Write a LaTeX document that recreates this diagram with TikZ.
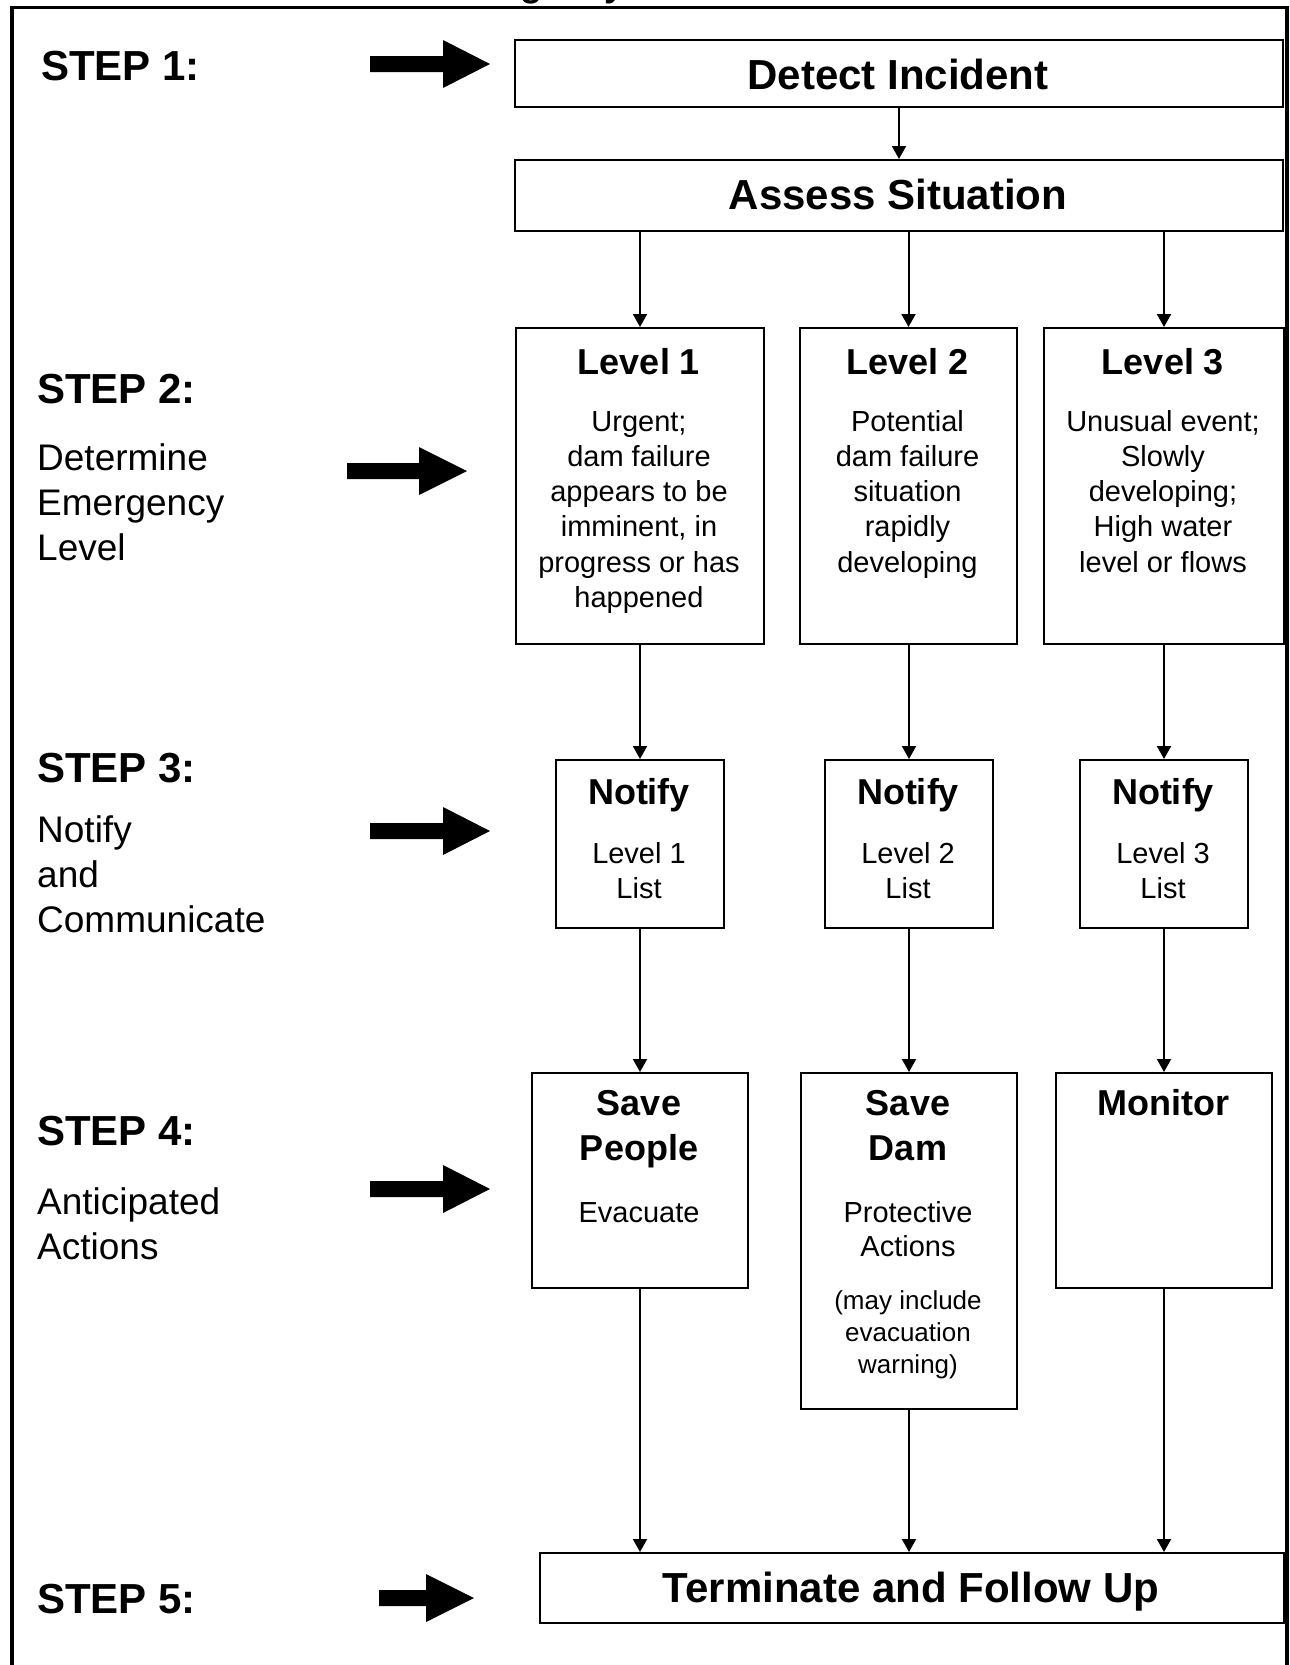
\documentclass[tikz,border=0pt]{standalone}
\usepackage{fontspec}
\setmainfont{Liberation Sans}
\usetikzlibrary{arrows.meta}
\newcommand\bigarrowat[5]{%
  \fill (#1,#4-8) -- (#2,#4-8) -- (#2,#4-24) -- (#3,#4) -- (#2,#4+24) -- (#2,#4+8) -- (#1,#4+8) -- cycle;}
\begin{document}
\begin{tikzpicture}[x=1pt,y=-1pt,
  box/.style={draw, line width=2pt, inner sep=0pt, anchor=north west},
  conn/.style={line width=2pt, -{Triangle[length=13pt,width=14pt]}},
  bigtxt/.style={font=\fontsize{42}{50}\selectfont\bfseries, inner sep=0pt, anchor=base},
  steptxt/.style={font=\fontsize{42}{50}\selectfont\bfseries, inner sep=0pt, anchor=base west},
  sidetxt/.style={font=\fontsize{37}{45}\selectfont, inner sep=0pt, anchor=base west, align=left},
  ttl/.style={font=\fontsize{36}{45}\selectfont\bfseries, inner sep=0pt, anchor=base, align=center},
  bodytxt/.style={font=\fontsize{29}{35.3}\selectfont, inner sep=0pt, anchor=base, align=center},
  smalltxt/.style={font=\fontsize{26}{32}\selectfont, inner sep=0pt, anchor=base, align=center}]
\useasboundingbox (0,0) rectangle (1290,1665);
% cut-off title
\node[font=\fontsize{36}{40}\selectfont\bfseries, inner sep=0pt, anchor=base west] (title) at (430,-3.5) {Emergency};
% frame
\draw[line width=3.5pt] (12,1700) -- (12,7.5) -- (1287,7.5) -- (1287,1700);
% boxes
\node[box, minimum width=768, minimum height=67] (det) at (514,39) {};
\node[box, minimum width=768, minimum height=71] (ass) at (514,159) {};
\node[box, minimum width=248, minimum height=316] (l1) at (515,327) {};
\node[box, minimum width=217, minimum height=316] (l2) at (799,327) {};
\node[box, minimum width=240, minimum height=316] (l3) at (1043,327) {};
\node[box, minimum width=168, minimum height=168] (n1) at (555,759) {};
\node[box, minimum width=168, minimum height=168] (n2) at (824,759) {};
\node[box, minimum width=168, minimum height=168] (n3) at (1079,759) {};
\node[box, minimum width=216, minimum height=215] (s1) at (531,1072) {};
\node[box, minimum width=216, minimum height=336] (s2) at (800,1072) {};
\node[box, minimum width=216, minimum height=215] (s3) at (1055,1072) {};
\node[box, minimum width=744, minimum height=70] (term) at (539,1552) {};
% box texts (multi-line nodes: base = last line's baseline)
\node[bigtxt] (tdet) at (898,89) {Detect Incident};
\node[bigtxt] (tass) at (898,209) {Assess Situation};
\node[ttl] (tl1) at (639,374) {Level 1};
\node[ttl] (tl2) at (907.5,374) {Level 2};
\node[ttl] (tl3) at (1163,374) {Level 3};
\node[bodytxt] (bl1) at (639,607.5) {Urgent;\\dam failure\\appears to be\\imminent, in\\progress or has\\happened};
\node[bodytxt] (bl2) at (907.5,572.2) {Potential\\dam failure\\situation\\rapidly\\developing};
\node[bodytxt] (bl3) at (1163,572.2) {Unusual event;\\Slowly\\developing;\\High water\\level or flows};
\node[ttl] (tn1) at (639,804) {Notify};
\node[ttl] (tn2) at (908,804) {Notify};
\node[ttl] (tn3) at (1163,804) {Notify};
\node[bodytxt, font=\fontsize{29}{35}\selectfont] (bn1) at (639,898) {Level 1\\List};
\node[bodytxt, font=\fontsize{29}{35}\selectfont] (bn2) at (908,898) {Level 2\\List};
\node[bodytxt, font=\fontsize{29}{35}\selectfont] (bn3) at (1163,898) {Level 3\\List};
\node[ttl] (ts1) at (639,1160) {Save\\People};
\node[ttl] (ts2) at (908,1160) {Save\\Dam};
\node[ttl] (ts3) at (1163,1115) {Monitor};
\node[bodytxt] (bs1) at (639,1222) {Evacuate};
\node[bodytxt, font=\fontsize{29}{34.5}\selectfont] (bs2) at (908,1256.5) {Protective\\Actions};
\node[smalltxt] (bs2b) at (908,1373) {(may include\\evacuation\\warning)};
\node[bigtxt] (tterm) at (911,1602) {Terminate and Follow Up};
% side labels
\node[steptxt] (st1) at (41,80) {STEP 1:};
\node[steptxt] (st2) at (37,403) {STEP 2:};
\node[sidetxt] (sd2) at (37,560) {Determine\\Emergency\\Level};
\node[steptxt] (st3) at (37,782) {STEP 3:};
\node[sidetxt] (sd3) at (37,932) {Notify\\and\\Communicate};
\node[steptxt] (st4) at (37,1145) {STEP 4:};
\node[sidetxt] (sd4) at (37,1259) {Anticipated\\Actions};
\node[steptxt] (st5) at (37,1613) {STEP 5:};
% fat arrows
\bigarrowat{370}{443}{490}{64}{}
\bigarrowat{347}{419}{467}{471}{}
\bigarrowat{370}{443}{490}{831}{}
\bigarrowat{370}{443}{490}{1189}{}
\bigarrowat{379}{426}{474}{1598}{}
% connectors
\draw[conn] (det.south) -- (ass.north);
\draw[conn] (ass.south -| l1.north) -- (l1.north);
\draw[conn] (ass.south -| l2.north) -- (l2.north);
\draw[conn] (ass.south -| l3.north) -- (l3.north);
\draw[conn] (n1.north |- l1.south) -- (n1.north);
\draw[conn] (n2.north |- l2.south) -- (n2.north);
\draw[conn] (n3.north |- l3.south) -- (n3.north);
\draw[conn] (n1.south) -- (n1.south |- s1.north);
\draw[conn] (n2.south) -- (n2.south |- s2.north);
\draw[conn] (n3.south) -- (n3.south |- s3.north);
\draw[conn] (s1.south) -- (s1.south |- term.north);
\draw[conn] (s2.south) -- (s2.south |- term.north);
\draw[conn] (s3.south) -- (s3.south |- term.north);
\end{tikzpicture}
\end{document}
